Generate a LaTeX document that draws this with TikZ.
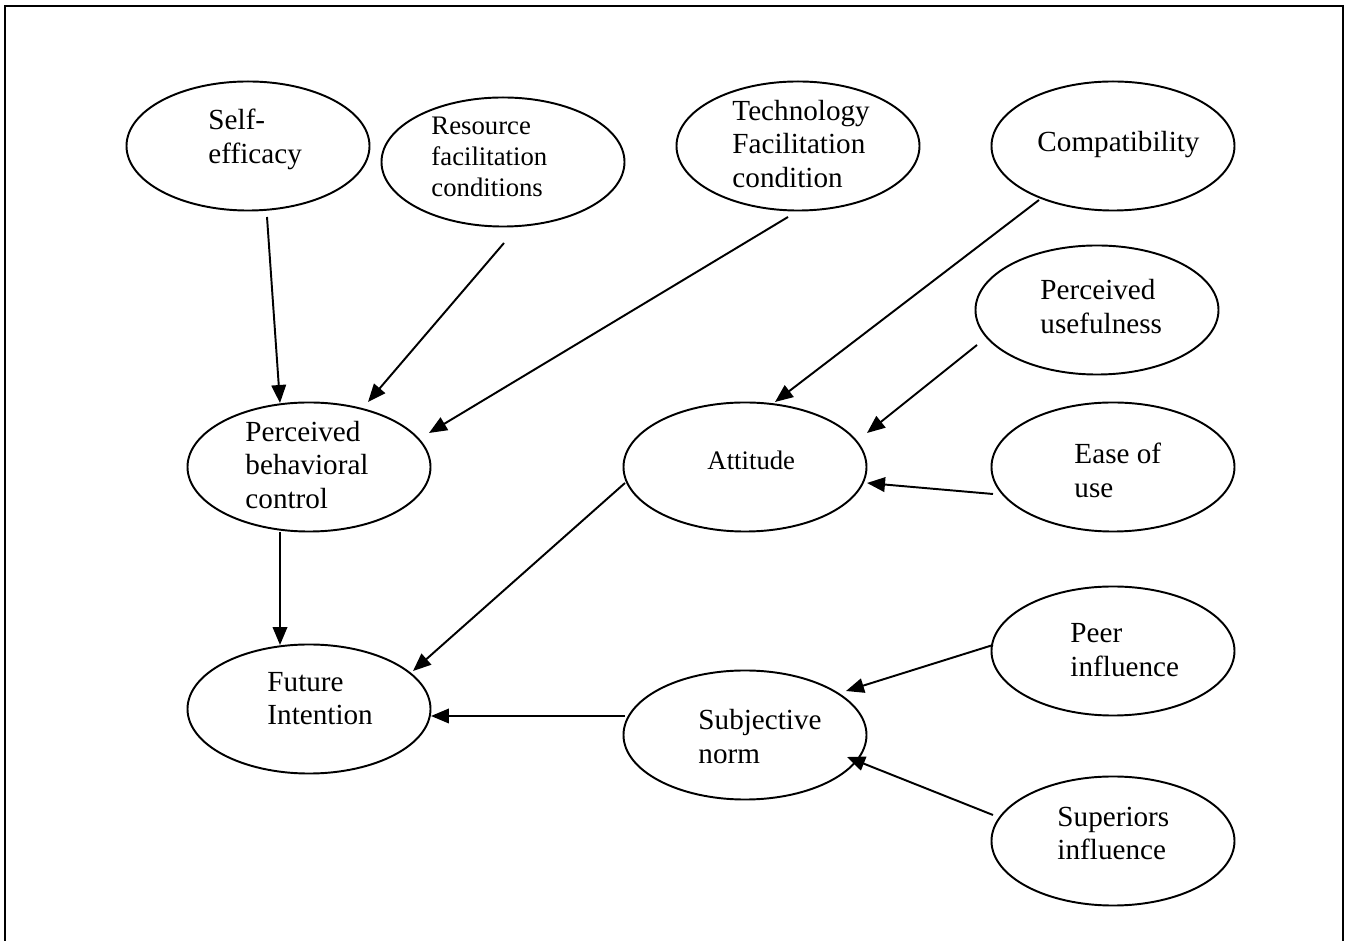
\documentclass[tikz,border=0pt]{standalone}
\usepackage{fontspec}
\setmainfont{Liberation Serif}
\usetikzlibrary{shapes.geometric,arrows.meta}
\begin{document}
\begin{tikzpicture}[x=0.4115pt,y=-0.4115pt,
  ell/.style={draw, ellipse, line width=0.8pt, minimum width=100pt, minimum height=53.1pt, inner sep=0pt},
  lbl/.style={anchor=west, align=left, inner sep=0pt, font={\fontsize{12}{13.8}\selectfont}},
  slbl/.style={lbl, font={\fontsize{11}{12.6}\selectfont}},
  arr/.style={line width=0.8pt, -{Triangle[length=7.4pt,width=6pt]}}]
\useasboundingbox (0,0) rectangle (1353,941);
\draw[line width=0.8pt] (5,941) -- (5,6) -- (1343,6) -- (1343,941);

% ellipses
\node[ell] (se)   at (248,146)  {};
\node[ell] (rf)   at (503,162)  {};
\node[ell] (tf)   at (798,146)  {};
\node[ell] (cp)   at (1113,146) {};
\node[ell] (pu)   at (1097,310) {};
\node[ell] (pbc)  at (309,467)  {};
\node[ell] (att)  at (745,467)  {};
\node[ell] (eou)  at (1113,467) {};
\node[ell] (peer) at (1113,651) {};
\node[ell] (fi)   at (309,709)  {};
\node[ell] (sn)   at (745,735)  {};
\node[ell] (sup)  at (1113,841) {};

% labels
\node[lbl]  (se-t)   at (208,139.5)  {Self-\\efficacy};
\node[slbl] (rf-t)   at (431,157)    {Resource\\facilitation\\conditions};
\node[lbl]  (tf-t)   at (732,144)    {Technology\\Facilitation\\condition};
\node[lbl]  (cp-t)   at (1037,145)   {Compatibility};
\node[lbl]  (pu-t)   at (1040,306.5) {Perceived\\usefulness};
\node[lbl]  (pbc-t)  at (245,465)    {Perceived\\behavioral\\control};
\node[slbl] (att-t)  at (707,460)    {Attitude};
\node[lbl]  (eou-t)  at (1074,470.5) {Ease of\\use};
\node[lbl]  (peer-t) at (1070,650)   {Peer\\influence};
\node[lbl]  (sup-t)  at (1057,833.5) {Superiors\\influence};
\node[lbl]  (fi-t)   at (267,698.5)  {Future\\Intention};
\node[lbl]  (sn-t)   at (698,736.5)  {Subjective\\norm};

% connector end points
\coordinate (se-o)   at (267,217);   \coordinate (pbc-i1) at (280,403);
\coordinate (rf-o)   at (504,243);   \coordinate (pbc-i2) at (368,402);
\coordinate (tf-o)   at (788,217);   \coordinate (pbc-i3) at (429,433);
\coordinate (cp-o)   at (1039,200);  \coordinate (att-i1) at (775,402);
\coordinate (pu-o)   at (977,345);   \coordinate (att-i2) at (867,433);
\coordinate (eou-o)  at (993,494);   \coordinate (att-i3) at (867,483);
\coordinate (pbc-o)  at (280,532);   \coordinate (fi-i1)  at (280,645);
\coordinate (att-o)  at (625,483);   \coordinate (fi-i2)  at (413,671);
\coordinate (sn-o)   at (625,716);   \coordinate (fi-i3)  at (431,716);
\coordinate (peer-o) at (993,645);   \coordinate (sn-i1)  at (846,691);
\coordinate (sup-o)  at (993,815);   \coordinate (sn-i2)  at (847,757);

\draw[arr] (se-o) -- (pbc-i1);
\draw[arr] (rf-o) -- (pbc-i2);
\draw[arr] (tf-o) -- (pbc-i3);
\draw[arr] (cp-o) -- (att-i1);
\draw[arr] (pu-o) -- (att-i2);
\draw[arr] (eou-o) -- (att-i3);
\draw[arr] (pbc-o) -- (fi-i1);
\draw[arr] (att-o) -- (fi-i2);
\draw[arr] (sn-o) -- (fi-i3);
\draw[arr] (peer-o) -- (sn-i1);
\draw[arr] (sup-o) -- (sn-i2);
\end{tikzpicture}
\end{document}
